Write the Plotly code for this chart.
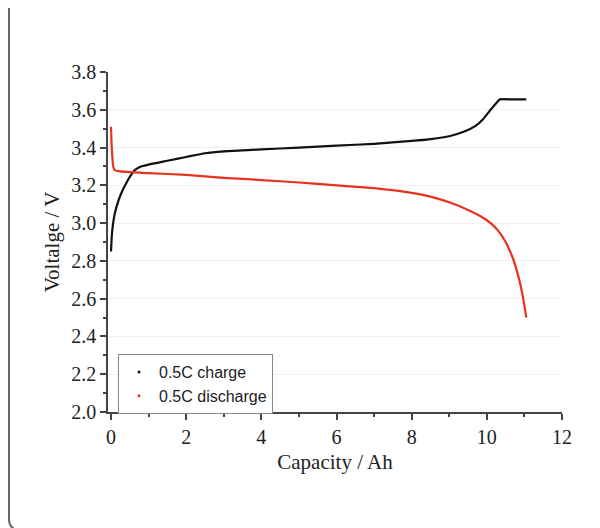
import plotly.graph_objects as go

charge_cap = [0, 0.02, 0.05, 0.1, 0.2, 0.3, 0.4, 0.5, 0.6, 0.7, 0.8, 1.0, 1.5, 2.0, 2.5, 3.0, 3.5, 4.0,
              5.0, 6.0, 7.0, 8.0, 8.5, 9.0, 9.4, 9.7, 9.9, 10.1, 10.25, 10.35, 10.7, 11.05]
charge_v = [2.85, 2.93, 2.99, 3.05, 3.12, 3.17, 3.21, 3.245, 3.275, 3.29, 3.30, 3.31, 3.33, 3.35, 3.37,
            3.38, 3.385, 3.39, 3.40, 3.41, 3.42, 3.435, 3.445, 3.46, 3.485, 3.515, 3.55, 3.60, 3.635,
            3.655, 3.655, 3.655]

discharge_cap = [0, 0.02, 0.06, 0.1, 0.2, 0.5, 1, 2, 3, 4, 5, 6, 7, 8, 8.5, 9, 9.5, 9.8, 10.1,
                 10.3, 10.5, 10.7, 10.85, 10.95, 11.05]
discharge_v = [3.51, 3.40, 3.30, 3.28, 3.275, 3.27, 3.265, 3.255, 3.24, 3.228, 3.215, 3.20, 3.185,
               3.16, 3.14, 3.11, 3.07, 3.04, 3.00, 2.96, 2.90, 2.81, 2.71, 2.62, 2.50]

names = ["0.5C charge", "0.5C discharge"]
colors = ["#111111", "#e8321e"]

fig = go.Figure()
fig.add_trace(go.Scatter(x=charge_cap, y=charge_v, mode="lines", line=dict(color=colors[0], width=2.2),
                         line_shape="spline", line_smoothing=0.5, showlegend=False))
fig.add_trace(go.Scatter(x=discharge_cap, y=discharge_v, mode="lines", line=dict(color=colors[1], width=2.2),
                         line_shape="spline", line_smoothing=0.7, showlegend=False))
for n, c in zip(names, colors):
    fig.add_trace(go.Scatter(x=[None], y=[None], mode="markers", name=n,
                             marker=dict(color=c, size=3)))

# page has an 8px body margin; figure is sized to fit inside the 600x528 window
OFF = 8
W, H = 592, 520
L, T = 100, 64
pw, ph = 454, 340
R, B = W - L - pw, H - T - ph


def px(x):
    return (x - OFF - L) / pw


def py(y):
    return (H - B - (y - OFF)) / ph


frame_path = (f"M {px(9)} {py(0)} L {px(9)} {py(519)} "
              f"Q {px(9)} {py(527)} {px(16)} {py(530)}")

fig.update_layout(
    width=W, height=H,
    margin=dict(l=L, r=R, t=T, b=B, autoexpand=False),
    paper_bgcolor="white", plot_bgcolor="white",
    font=dict(family="Liberation Serif", size=20, color="#222"),
    showlegend=True,
    legend=dict(x=px(118), y=py(354), xanchor="left", yanchor="top",
                bordercolor="#888", borderwidth=1, bgcolor="white",
                font=dict(family="Liberation Sans", size=16, color="#222"),
                tracegroupgap=0, itemwidth=30),
    shapes=[dict(type="path", xref="paper", yref="paper", path=frame_path,
                 line=dict(color="#666", width=2))],
    xaxis=dict(range=[-0.08, 12], tickvals=[0, 2, 4, 6, 8, 10, 12], automargin=False,
               ticks="outside", ticklen=6, tickwidth=1.5, tickcolor="#444",
               minor=dict(tickvals=[1, 3, 5, 7, 9, 11], ticks="outside", ticklen=3, tickcolor="#444"),
               showline=True, linecolor="#444", linewidth=1.5, showgrid=False, zeroline=False,
               title=dict(text="Capacity / Ah", standoff=8, font=dict(size=21))),
    yaxis=dict(range=[2.0, 3.8], tickvals=[2.0, 2.2, 2.4, 2.6, 2.8, 3.0, 3.2, 3.4, 3.6, 3.8],
               tickformat=".1f", automargin=False,
               ticks="outside", ticklen=6, tickwidth=1.5, tickcolor="#444",
               minor=dict(tickvals=[2.1, 2.3, 2.5, 2.7, 2.9, 3.1, 3.3, 3.5, 3.7], ticks="outside",
                          ticklen=3, tickcolor="#444", showgrid=False),
               showline=True, linecolor="#444", linewidth=1.5,
               showgrid=True, gridcolor="#f0f0f0", gridwidth=1, zeroline=False,
               title=dict(text="Voltalge / V", standoff=6, font=dict(size=21))),
)

fig.write_html("out.html")
